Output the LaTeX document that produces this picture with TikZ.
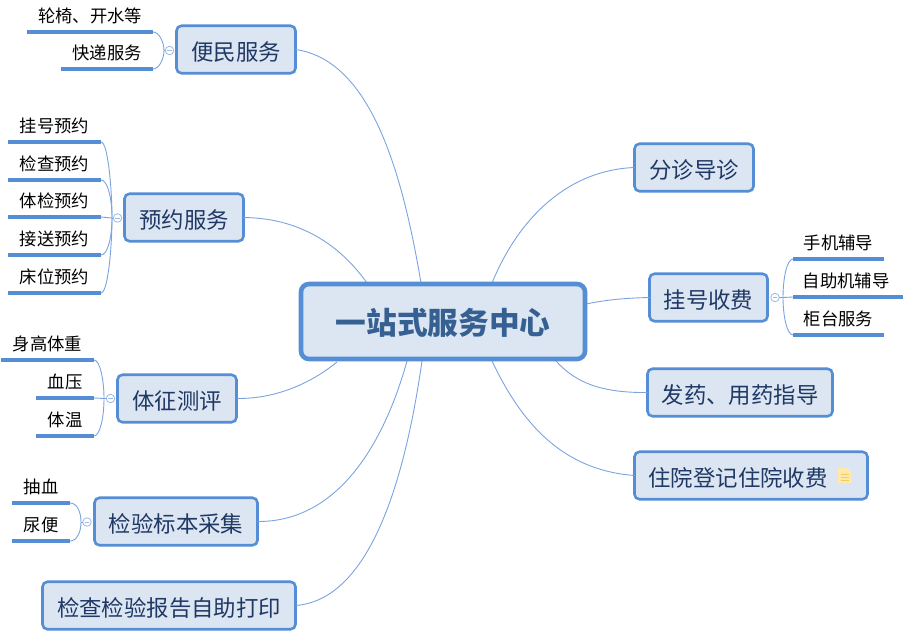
\documentclass[tikz,border=0pt]{standalone}
\usepackage{fontspec}
\setmainfont{Noto Sans CJK SC}
\def\u{.75pt}
\definecolor{bordc}{HTML}{558ED5}
\definecolor{fillc}{HTML}{DCE6F2}
\definecolor{linkc}{HTML}{7BA3DF}
\definecolor{topicc}{HTML}{1F3864}
\definecolor{mainc}{HTML}{366092}
\definecolor{togc}{HTML}{9DB9E3}
\definecolor{notefill}{HTML}{FFE9A8}
\definecolor{noteline}{HTML}{F2CB6A}
\tikzset{
  topic/.style={draw=bordc,fill=fillc,line width=2.6*\u,rounded corners=5*\u,inner sep=0pt,outer sep=0pt,
    minimum height=47.5*\u,text=topicc,font=\fontsize{16.8pt}{20pt}\selectfont,text height=16.2pt,text depth=.4pt},
  central/.style={draw=bordc,fill=fillc,line width=4.6*\u,rounded corners=8*\u,inner sep=0pt,outer sep=0pt,
    minimum width=284*\u,minimum height=75*\u,text=mainc,font=\fontsize{23pt}{27pt}\selectfont\bfseries,text height=20.7pt,text depth=1pt},
  leaf/.style={inner sep=0pt,outer sep=0pt,minimum height=34*\u,anchor=south,text=black,font=\fontsize{13pt}{16pt}\selectfont,text height=12pt,text depth=.7pt},
  leafline/.style={draw=bordc,line width=2.3pt},
  link/.style={draw=linkc,line width=.9*\u},
  toggle/.style={circle,draw=togc,fill=white,line width=.8*\u,minimum size=8.5*\u,inner sep=0pt,outer sep=0pt,
    path picture={\draw[togc,line width=.8*\u] ([xshift=2*\u]path picture bounding box.west) -- ([xshift=-2*\u]path picture bounding box.east);}},
  noteicon/.style={draw=none,fill=none,minimum width=13*\u,minimum height=15*\u,inner sep=0pt,outer sep=0pt},
}
\begin{document}
\begin{tikzpicture}[x=.75pt,y=-.75pt]
\useasboundingbox (0,0) rectangle (916,639);
% attachment points on the central node's edge
\coordinate (ca) at (421,283);
\coordinate (cb) at (367,283);
\coordinate (cc) at (337,362);
\coordinate (cd) at (407,361);
\coordinate (ce) at (422,361);
\coordinate (cf) at (492,283);
\coordinate (cg) at (586,304);
\coordinate (ch) at (556,361);
\coordinate (ci) at (492,361);
% junctions
\coordinate (j1) at (164,50.5);
\coordinate (j2) at (112,218);
\coordinate (j3) at (104,398.5);
\coordinate (j4) at (81,522);
\coordinate (j7) at (783,297.5);
% topics
\node[topic,minimum width=119*\u] (t1) at (236,49.5) {便民服务};
\node[topic,minimum width=119*\u] (t2) at (184,217.5) {预约服务};
\node[topic,minimum width=119*\u] (t3) at (177,398.5) {体征测评};
\node[topic,minimum width=163*\u] (t4) at (176,521.5) {检验标本采集};
\node[topic,minimum width=253*\u] (t5) at (169,605.5) {检查检验报告自助打印};
\node[topic,minimum width=119*\u] (t6) at (694,167.5) {分诊导诊};
\node[topic,minimum width=118*\u] (t7) at (708.5,297.5) {挂号收费};
\node[topic,minimum width=185*\u] (t8) at (740,392.5) {发药、用药指导};
\node[topic,minimum width=233*\u] (t9) at (751,475.5) {\hspace*{-19.5pt}住院登记住院收费};
% connectors to the centre
\draw[link] (t1.east) .. controls (370,60) and (402,170) .. (ca);
\draw[link] (t2.east) .. controls (300,218) and (340,245) .. (cb);
\draw[link] (t3.east) .. controls (280,399) and (315,380) .. (cc);
\draw[link] (t4.east) .. controls (340,522) and (385,440) .. (cd);
\draw[link] (t5.east) .. controls (370,600) and (405,480) .. (ce);
\draw[link] (t6.west) .. controls (570,170) and (520,215) .. (cf);
\draw[link] (t7.west) .. controls (625,298) and (605,300) .. (cg);
\draw[link] (t8.west) .. controls (600,393) and (575,382) .. (ch);
\draw[link] (t9.west) .. controls (560,470) and (520,420) .. (ci);
% central
\node[central] (c) at (443,321.5) {一站式服务中心};
% leaves
\node[leaf,minimum width=126*\u] (a1) at (90,32) {轮椅、开水等};
\node[leaf,minimum width=92*\u] (a2) at (107,69) {快递服务};
\node[leaf,minimum width=93*\u] (b1) at (54.5,142) {挂号预约};
\node[leaf,minimum width=93*\u] (b2) at (54.5,180) {检查预约};
\node[leaf,minimum width=93*\u] (b3) at (54.5,217) {体检预约};
\node[leaf,minimum width=93*\u] (b4) at (54.5,255) {接送预约};
\node[leaf,minimum width=93*\u] (b5) at (54.5,293) {床位预约};
\node[leaf,minimum width=93*\u] (d1) at (47.5,360) {身高体重};
\node[leaf,minimum width=58*\u] (d2) at (65,398) {血压};
\node[leaf,minimum width=58*\u] (d3) at (65,436) {体温};
\node[leaf,minimum width=58*\u] (e1) at (41,503) {抽血};
\node[leaf,minimum width=58*\u] (e2) at (41,541) {尿便};
\node[leaf,minimum width=91*\u] (f1) at (838.5,259) {手机辅导};
\node[leaf,minimum width=110*\u] (f2) at (848,297) {\hspace*{-3pt}自助机辅导};
\node[leaf,minimum width=91*\u] (f3) at (838.5,335) {柜台服务};
\foreach \n in {a1,a2,b1,b2,b3,b4,b5,d1,d2,d3,e1,e2,f1,f2,f3}
  \draw[leafline] (\n.south west) -- (\n.south east);
% branch curves
\draw[link] (a1.south east) .. controls (159,32) and (164,42) .. (j1);
\draw[link] (a2.south east) .. controls (159,69) and (164,59) .. (j1);
\draw[link] (b1.south east) .. controls (108,142) and (112,190) .. (j2);
\draw[link] (b2.south east) .. controls (108,180) and (112,200) .. (j2);
\draw[link] (b3.south east) -- (j2);
\draw[link] (b4.south east) .. controls (108,255) and (112,236) .. (j2);
\draw[link] (b5.south east) .. controls (108,293) and (112,246) .. (j2);
\draw[link] (d1.south east) .. controls (100,360) and (104,380) .. (j3);
\draw[link] (d2.south east) -- (j3);
\draw[link] (d3.south east) .. controls (100,436) and (104,417) .. (j3);
\draw[link] (e1.south east) .. controls (77,503) and (81,512) .. (j4);
\draw[link] (e2.south east) .. controls (77,541) and (81,532) .. (j4);
\draw[link] (f1.south west) .. controls (787,259) and (783,278) .. (j7);
\draw[link] (f2.south west) -- (j7);
\draw[link] (f3.south west) .. controls (787,335) and (783,316) .. (j7);
% toggles
\node[toggle] (g1) at (169.5,50.5) {};
\node[toggle] (g2) at (117.5,218) {};
\node[toggle] (g3) at (110.5,398.5) {};
\node[toggle] (g4) at (87,522) {};
\node[toggle] (g7) at (775,297.5) {};
\draw[link] (j1) -- (g1.west);
\draw[link] (j2) -- (g2.west);
\draw[link] (j3) -- (g3.west);
\draw[link] (j4) -- (g4.west);
\draw[link] (g7.east) -- (j7);
% note icon
\node[noteicon] (n) at (844.5,475.5) {};
\filldraw[draw=none,fill=notefill]
  (n.north west) -- ([xshift=-4*\u]n.north east) -- ([yshift=-4*\u]n.north east) -- (n.south east) -- (n.south west) -- cycle;
\foreach \yy in {-1,2,5}
  \draw[noteline,line width=1*\u] ([xshift=-4*\u,yshift=-\yy*\u]n.center) -- ([xshift=4*\u,yshift=-\yy*\u]n.center);
\end{tikzpicture}
\end{document}
